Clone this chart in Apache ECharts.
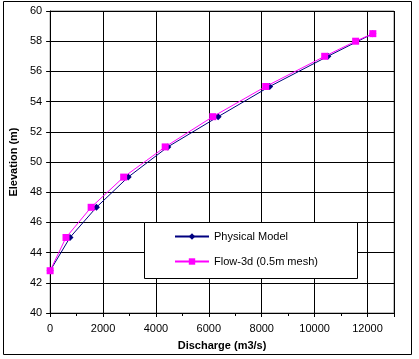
<!DOCTYPE html>
<html><head><meta charset="utf-8">
<script src="https://cdn.jsdelivr.net/npm/echarts@6/dist/echarts.min.js"></script>
<style>html,body{margin:0;padding:0;background:#fff}#c{width:419px;height:359px}</style>
</head><body><div id="c"></div>
<script>
const physicalX = [0, 750, 1750, 2950, 4450, 6350, 8300, 10500, 12200];
const physicalY = [42.8, 45, 47, 49, 51, 53, 55, 57, 58.5];
const flowX = [0, 600, 1550, 2780, 4350, 6150, 8150, 10380, 11550, 12200];
const flowY = [42.8, 45, 47, 49, 51, 53, 55, 57, 58, 58.5];
const seriesNames = ['Physical Model', 'Flow-3d (0.5m mesh)'];
const xTitle = 'Discharge (m3/s)';
const yTitle = 'Elevation (m)';

const F = 'Liberation Sans, Arial, sans-serif';
const chart = echarts.init(document.getElementById('c'));
chart.setOption({
  animation: false,
  backgroundColor: '#fff',
  graphic: [
    {type: 'rect', shape: {x: 3.5, y: 1.5, width: 408, height: 353}, style: {fill: 'none', stroke: '#000', lineWidth: 1}, z: 0},
    {type: 'rect', shape: {x: 144.5, y: 222.5, width: 213, height: 56}, style: {fill: '#fff', stroke: '#000', lineWidth: 1}, z: 10}
  ],
  grid: {left: 47, top: 11, right: 25, bottom: 46, show: true, borderColor: '#808080', borderWidth: 1, backgroundColor: '#fff'},
  legend: {
    orient: 'vertical', left: 169, top: 226, itemWidth: 34, itemHeight: 8, itemGap: 14,
    textStyle: {fontFamily: F, fontSize: 11, color: '#000'},
    data: seriesNames, z: 11
  },
  xAxis: {
    type: 'value', min: 0, max: 13000, interval: 2000,
    name: xTitle, nameLocation: 'middle', nameGap: 27,
    nameTextStyle: {fontFamily: F, fontSize: 11, fontWeight: 'bold', color: '#000'},
    axisLine: {show: true, lineStyle: {color: '#000'}},
    axisTick: {show: true, length: 4, inside: false, lineStyle: {color: '#000'}},
    minorTick: {show: true, splitNumber: 2, length: 3, lineStyle: {color: '#000'}},
    axisLabel: {fontFamily: F, fontSize: 11, color: '#000', margin: 10,
      formatter: v => (v % 2000 === 0 && v <= 12000) ? String(v) : ''},
    splitLine: {show: true, lineStyle: {color: '#000', width: 1}}
  },
  yAxis: {
    type: 'value', min: 40, max: 60, interval: 2,
    name: yTitle, nameLocation: 'middle', nameGap: 31, nameRotate: 90,
    nameTextStyle: {fontFamily: F, fontSize: 11, fontWeight: 'bold', color: '#000'},
    axisLine: {show: true, lineStyle: {color: '#000'}},
    axisTick: {show: true, length: 4, lineStyle: {color: '#000'}},
    axisLabel: {fontFamily: F, fontSize: 11, color: '#000', margin: 8},
    splitLine: {show: true, lineStyle: {color: '#000', width: 1}}
  },
  series: [
    {
      name: seriesNames[0], type: 'line', data: physicalX.map((x, i) => [x, physicalY[i]]),
      symbol: 'diamond', symbolSize: 7, showAllSymbol: true,
      lineStyle: {color: '#000080', width: 1}, itemStyle: {color: '#000080'}, z: 2
    },
    {
      name: seriesNames[1], type: 'line', data: flowX.map((x, i) => [x, flowY[i]]),
      symbol: 'rect', symbolSize: 7, showAllSymbol: true,
      lineStyle: {color: '#ff00ff', width: 1}, itemStyle: {color: '#ff00ff'}, z: 3
    }
  ]
});
</script></body></html>
